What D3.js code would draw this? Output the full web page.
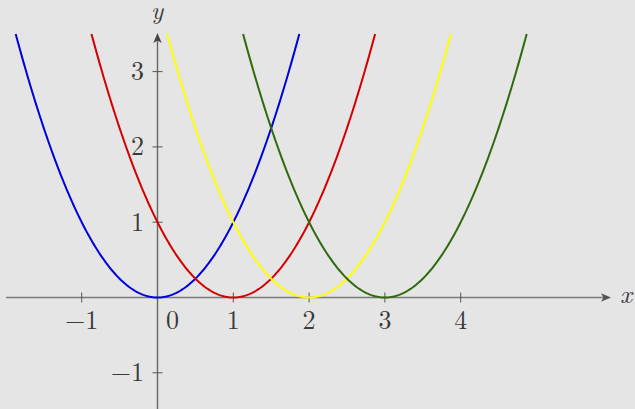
<!DOCTYPE html>
<html>
<head>
<meta charset="utf-8">
<script src="https://cdn.jsdelivr.net/npm/d3@7"></script>
<style>
html,body{margin:0;padding:0;background:#e5e5e5;}
svg{display:block;}
text{font-family:"Latin Modern Roman","CMU Serif","Liberation Serif","DejaVu Serif",serif;fill:#3a3a3a;}
</style>
</head>
<body>
<svg id="chart" width="635" height="409"></svg>
<script>
// Parabolas y = (x - shift)^2, drawn up to yMax
const shifts = [0, 1, 2, 3];
const colors = ["#0000dd", "#d40000", "#ffff00", "#2f6a0c"];
const yMax = 3.5;
const xTicks = [-1, 1, 2, 3, 4];
const yTicks = [-1, 1, 2, 3];
const fmt = v => (v < 0 ? "\u2212" + Math.abs(v) : String(v));

const W = 635, H = 409;
const svg = d3.select("#chart");
svg.append("rect").attr("width", W).attr("height", H).attr("fill", "#e5e5e5");

const x = d3.scaleLinear().domain([-2, 5]).range([157.5 - 2 * 75.8, 157.5 + 5 * 75.8]);
const y = d3.scaleLinear().domain([-1.5, 3.5]).range([297.5 + 1.5 * 75.3, 297.5 - 3.5 * 75.3]);

// x axis
svg.append("line").attr("x1", 6).attr("x2", 606).attr("y1", y(0)).attr("y2", y(0))
  .attr("stroke", "#7a7a7a").attr("stroke-width", 1.6);
// y axis
svg.append("line").attr("x1", x(0)).attr("x2", x(0)).attr("y1", H).attr("y2", 38)
  .attr("stroke", "#666").attr("stroke-width", 1.4);

// arrowheads
function arrow(tx, ty, angle, col) {
  svg.append("path")
    .attr("d", "M0,0 L-10,-4.2 L-7.5,0 L-10,4.2 Z")
    .attr("transform", `translate(${tx},${ty}) rotate(${angle})`)
    .attr("fill", col);
}
arrow(611, y(0), 0, "#555");
arrow(x(0), 33, -90, "#444");

// ticks
svg.selectAll(".xt").data(xTicks).enter().append("line")
  .attr("x1", d => x(d)).attr("x2", d => x(d))
  .attr("y1", y(0) - 5).attr("y2", y(0) + 5)
  .attr("stroke", "#555").attr("stroke-width", 1);
svg.selectAll(".yt").data(yTicks).enter().append("line")
  .attr("x1", x(0) - 5).attr("x2", x(0) + 5)
  .attr("y1", d => y(d)).attr("y2", d => y(d))
  .attr("stroke", "#555").attr("stroke-width", 1);

// curves
const line = d3.line().x(d => x(d[0])).y(d => y(d[1])).curve(d3.curveLinear);
shifts.forEach((s, i) => {
  const half = Math.sqrt(yMax);
  const pts = d3.range(0, 201).map(k => {
    const xv = s - half + (2 * half) * k / 200;
    return [xv, (xv - s) * (xv - s)];
  });
  svg.append("path").datum(pts).attr("d", line)
    .attr("fill", "none").attr("stroke", colors[i]).attr("stroke-width", 2);
});

// tick labels
const fs = 26;
svg.selectAll(".xl").data(xTicks).enter().append("text")
  .attr("x", d => x(d)).attr("y", 329)
  .attr("text-anchor", "middle").attr("font-size", fs)
  .text(fmt);
svg.append("text").attr("x", 172.5).attr("y", 329).attr("text-anchor", "middle")
  .attr("font-size", fs).text("0");
svg.selectAll(".yl").data(yTicks).enter().append("text")
  .attr("x", 144).attr("y", d => y(d) + 8.5)
  .attr("text-anchor", "end").attr("font-size", fs)
  .text(fmt);

// axis labels
svg.append("text").attr("x", 626).attr("y", 303).attr("text-anchor", "middle")
  .attr("font-size", 26).attr("font-style", "italic").text("x");
svg.append("text").attr("x", 157).attr("y", 19).attr("text-anchor", "middle")
  .attr("font-size", 25).attr("font-style", "italic").text("y");
</script>
</body>
</html>
